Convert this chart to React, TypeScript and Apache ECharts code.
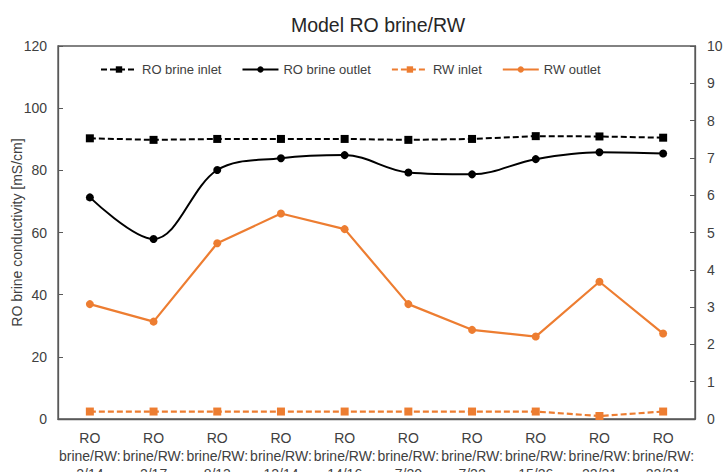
import React, { useEffect, useRef } from "react";
import * as echarts from "echarts";

const categories = [
  "RO\nbrine/RW:\n2/14",
  "RO\nbrine/RW:\n2/17",
  "RO\nbrine/RW:\n8/13",
  "RO\nbrine/RW:\n12/14",
  "RO\nbrine/RW:\n14/16",
  "RO\nbrine/RW:\n7/20",
  "RO\nbrine/RW:\n7/22",
  "RO\nbrine/RW:\n15/26",
  "RO\nbrine/RW:\n22/31",
  "RO\nbrine/RW:\n22/31",
];

const roBrineInlet = [90.3, 89.8, 90.1, 90.1, 90.1, 89.8, 90.1, 91.0, 90.9, 90.5];
const roBrineOutlet = [71.3, 57.9, 80.1, 83.9, 84.9, 79.3, 78.7, 83.6, 85.8, 85.4];
const rwInlet = [0.2, 0.2, 0.2, 0.2, 0.2, 0.2, 0.2, 0.2, 0.08, 0.2];
const rwOutlet = [3.08, 2.61, 4.71, 5.51, 5.09, 3.08, 2.39, 2.21, 3.68, 2.29];

const FONT = "'Liberation Sans', Arial, sans-serif";
const AXIS = "#595959";
const TXT = "#404040";
const ORANGE = "#ED7D31";

export default function App() {
  const ref = useRef<HTMLDivElement>(null);
  useEffect(() => {
    if (!ref.current) return;
    const chart = echarts.init(ref.current, undefined, { renderer: "svg" });
    chart.setOption({
      animation: false,
      backgroundColor: "#fff",
      textStyle: { fontFamily: FONT },
      title: {
        text: "Model RO brine/RW",
        left: 373,
        textAlign: "center",
        top: 10,
        textStyle: { fontFamily: FONT, fontSize: 19.5, fontWeight: "normal", color: "#262626" },
      },
      legend: {
        left: 95,
        top: 58,
        itemWidth: 36,
        itemHeight: 8,
        itemGap: 20,
        textStyle: { fontFamily: FONT, fontSize: 13, color: TXT },
        data: ["RO brine inlet", "RO brine outlet", "RW inlet", "RW outlet"],
      },
      grid: {
        left: 58,
        right: 29,
        top: 46,
        bottom: 53,
        outerBoundsMode: "none",
        containLabel: false,
        show: true,
        borderColor: AXIS,
        borderWidth: 1.3,
        backgroundColor: "transparent",
      },
      xAxis: {
        type: "category",
        data: categories,
        boundaryGap: true,
        axisLine: { lineStyle: { color: AXIS, width: 1.3 } },
        axisTick: { inside: true, alignWithLabel: true, length: 4, lineStyle: { color: AXIS } },
        axisLabel: {
          interval: 0,
          hideOverlap: false,
          fontFamily: FONT,
          fontSize: 14,
          color: TXT,
          lineHeight: 18,
          margin: 10,
        },
        splitLine: { show: false },
      },
      yAxis: [
        {
          type: "value",
          min: 0,
          max: 120,
          interval: 20,
          name: "RO brine conductivity [mS/cm]",
          nameLocation: "middle",
          nameRotate: 90,
          nameGap: 34,
          nameMoveOverlap: false,
          nameTextStyle: { fontFamily: FONT, fontSize: 14, color: TXT },
          axisLine: { show: true, lineStyle: { color: AXIS, width: 1.3 } },
          axisTick: { show: true, inside: true, length: 5, lineStyle: { color: AXIS } },
          axisLabel: { fontFamily: FONT, fontSize: 14, color: TXT, margin: 11 },
          splitLine: { show: false },
        },
        {
          type: "value",
          min: 0,
          max: 10,
          interval: 1,
          position: "right",
          name: "RW conductivity [mS/cm]",
          nameLocation: "middle",
          nameRotate: 90,
          nameGap: 18,
          nameTextStyle: { fontFamily: FONT, fontSize: 14, color: TXT },
          axisLine: { show: true, lineStyle: { color: AXIS, width: 1.3 } },
          axisTick: { show: true, inside: true, length: 5, lineStyle: { color: AXIS } },
          axisLabel: { fontFamily: FONT, fontSize: 14, color: TXT, margin: 12 },
          splitLine: { show: false },
        },
      ],
      series: [
        {
          name: "RO brine inlet",
          type: "line",
          yAxisIndex: 0,
          data: roBrineInlet,
          symbol: "rect",
          symbolSize: 8,
          itemStyle: { color: "#000" },
          lineStyle: { color: "#000", width: 2, type: [6, 3] },
        },
        {
          name: "RO brine outlet",
          type: "line",
          yAxisIndex: 0,
          data: roBrineOutlet,
          smooth: 0.35,
          symbol: "circle",
          symbolSize: 8,
          itemStyle: { color: "#000" },
          lineStyle: { color: "#000", width: 2 },
        },
        {
          name: "RW inlet",
          type: "line",
          yAxisIndex: 1,
          data: rwInlet,
          symbol: "rect",
          symbolSize: 8,
          itemStyle: { color: ORANGE },
          lineStyle: { color: ORANGE, width: 2.2, type: [6, 3] },
        },
        {
          name: "RW outlet",
          type: "line",
          yAxisIndex: 1,
          data: rwOutlet,
          symbol: "circle",
          symbolSize: 8,
          itemStyle: { color: ORANGE },
          lineStyle: { color: ORANGE, width: 2.2 },
        },
      ],
    });
    return () => chart.dispose();
  }, []);
  return <div ref={ref} style={{ width: 724, height: 472, position: "absolute", left: 0, top: 0 }} />;
}
